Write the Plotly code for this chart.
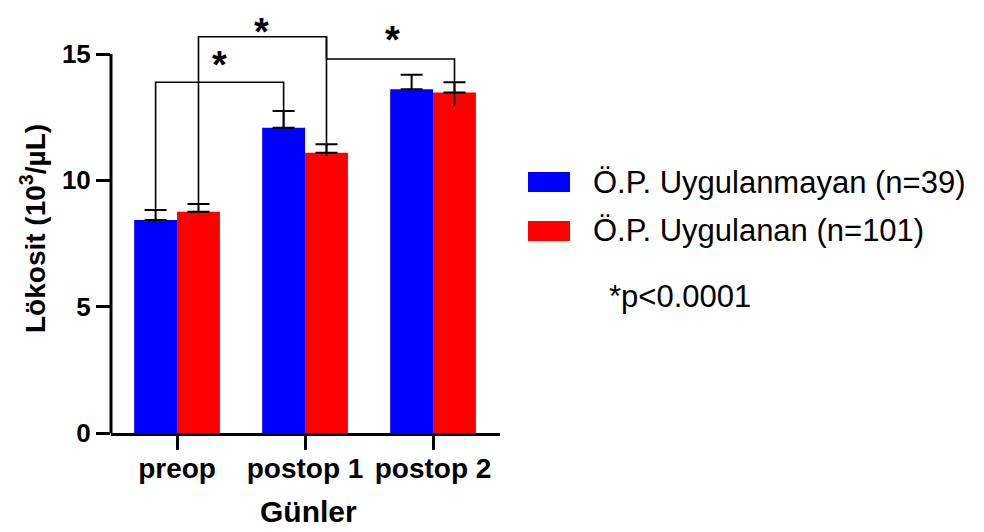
import plotly.graph_objects as go

categories = ["preop", "postop 1", "postop 2"]
cat_index = [0, 1, 2]
series_names = ["Ö.P. Uygulanmayan (n=39)", "Ö.P. Uygulanan (n=101)"]
blue_vals = [8.43, 12.08, 13.60]
blue_err = [0.40, 0.66, 0.58]
red_vals = [8.76, 11.09, 13.48]
red_err = [0.30, 0.34, 0.40]
y_ticks = [0, 5, 10, 15]

# significance brackets: (x_left, y_left_bottom, x_right, y_right_bottom, y_top)
brackets = [
    (-0.1675, 8.82, 0.8325, 12.08, 13.88),
    (0.1675, 9.05, 1.1675, 10.96, 15.68),
    (1.1675, 15.68, 2.1675, 12.95, 14.80),
]
stars = [(0.33, 14.56), (0.66, 15.88), (1.68, 15.56)]

FONT = "Liberation Sans, Arial, sans-serif"
BLUE = "#0000FF"
RED = "#FF0000"

# page offset (body margin) and plot-area geometry in screen pixels
OFF = 8
S_L, S_R, S_T, S_B = 111, 500, 8, 433
PX_PER_UNIT = (S_B - 54) / 15.0

def px(x):
    return (x - S_L) / (S_R - S_L)

def py(y):
    return (S_B - y) / (S_B - S_T)

fig = go.Figure()
fig.add_trace(go.Bar(
    x=cat_index, y=blue_vals, name=series_names[0], marker=dict(color=BLUE, line=dict(width=0)),
    error_y=dict(type="data", array=blue_err, arrayminus=[0, 0, 0], symmetric=False,
                 color="black", thickness=2, width=11),
    showlegend=False,
))
fig.add_trace(go.Bar(
    x=cat_index, y=red_vals, name=series_names[1], marker=dict(color=RED, line=dict(width=0)),
    error_y=dict(type="data", array=red_err, arrayminus=[0, 0, 0], symmetric=False,
                 color="black", thickness=2, width=11),
    showlegend=False,
))

shapes = []
for (xl, yl, xr, yr, yt) in brackets:
    shapes.append(dict(type="path", xref="x", yref="y",
                       path=f"M {xl},{yl} L {xl},{yt} L {xr},{yt} L {xr},{yr}",
                       line=dict(color="black", width=1.6)))
# y axis line from 0 to 15
shapes.append(dict(type="line", xref="paper", yref="y", x0=0, x1=0, y0=-0.06, y1=15,
                   line=dict(color="black", width=3)))
# legend swatches
shapes.append(dict(type="rect", xref="paper", yref="paper", x0=px(528), x1=px(570),
                   y0=py(192), y1=py(172), fillcolor=BLUE, line=dict(width=0)))
shapes.append(dict(type="rect", xref="paper", yref="paper", x0=px(528), x1=px(570),
                   y0=py(241), y1=py(221), fillcolor=RED, line=dict(width=0)))

annotations = []
for (sx, sy) in stars:
    annotations.append(dict(x=sx, y=sy, xref="x", yref="y", text="<b>*</b>", showarrow=False,
                            font=dict(family=FONT, size=38, color="black"), yanchor="middle"))
annotations.append(dict(x=px(591), y=py(182), xref="paper", yref="paper", text=series_names[0],
                        showarrow=False, xanchor="left", yanchor="middle",
                        font=dict(family=FONT, size=31, color="black")))
annotations.append(dict(x=px(591), y=py(230), xref="paper", yref="paper", text=series_names[1],
                        showarrow=False, xanchor="left", yanchor="middle",
                        font=dict(family=FONT, size=31, color="black")))
annotations.append(dict(x=px(607), y=py(296), xref="paper", yref="paper", text="*p<0.0001",
                        showarrow=False, xanchor="left", yanchor="middle",
                        font=dict(family=FONT, size=31, color="black")))
annotations.append(dict(x=px(33), y=py(229), xref="paper", yref="paper",
                        text="<b>Lökosit (10<sup>3</sup>/µL)</b>", textangle=-90,
                        showarrow=False, xanchor="center", yanchor="middle",
                        font=dict(family=FONT, size=28, color="black")))
annotations.append(dict(x=px(308), y=py(512), xref="paper", yref="paper",
                        text="<b>Günler</b>", showarrow=False, xanchor="center", yanchor="middle",
                        font=dict(family=FONT, size=30, color="black")))

fig.update_layout(
    width=984 - OFF, height=532 - OFF,
    margin=dict(l=S_L - OFF, r=984 - S_R, t=S_T - OFF, b=532 - S_B, pad=0),
    paper_bgcolor="white", plot_bgcolor="white",
    barmode="group", bargap=0.33, bargroupgap=0,
    shapes=shapes, annotations=annotations,
    font=dict(family=FONT, color="black"),
    xaxis=dict(
        range=[-0.516, 2.523], tickmode="array", tickvals=cat_index,
        ticktext=[f"<b>{c}</b>" for c in categories],
        showline=True, linecolor="black", linewidth=3,
        ticks="outside", ticklen=14, tickwidth=3, tickcolor="black",
        ticklabelstandoff=-6,
        showgrid=False, zeroline=False, automargin=False,
        tickfont=dict(family=FONT, size=28, color="black"),
    ),
    yaxis=dict(
        range=[0, (S_B - S_T) / PX_PER_UNIT], tickmode="array", tickvals=y_ticks,
        ticktext=[f"<b>{v}</b>" for v in y_ticks],
        showline=False, ticks="outside", ticklen=14, tickwidth=3, tickcolor="black",
        showgrid=False, zeroline=False, automargin=False,
        tickfont=dict(family=FONT, size=26, color="black"),
    ),
)

fig.write_html("out.html")
